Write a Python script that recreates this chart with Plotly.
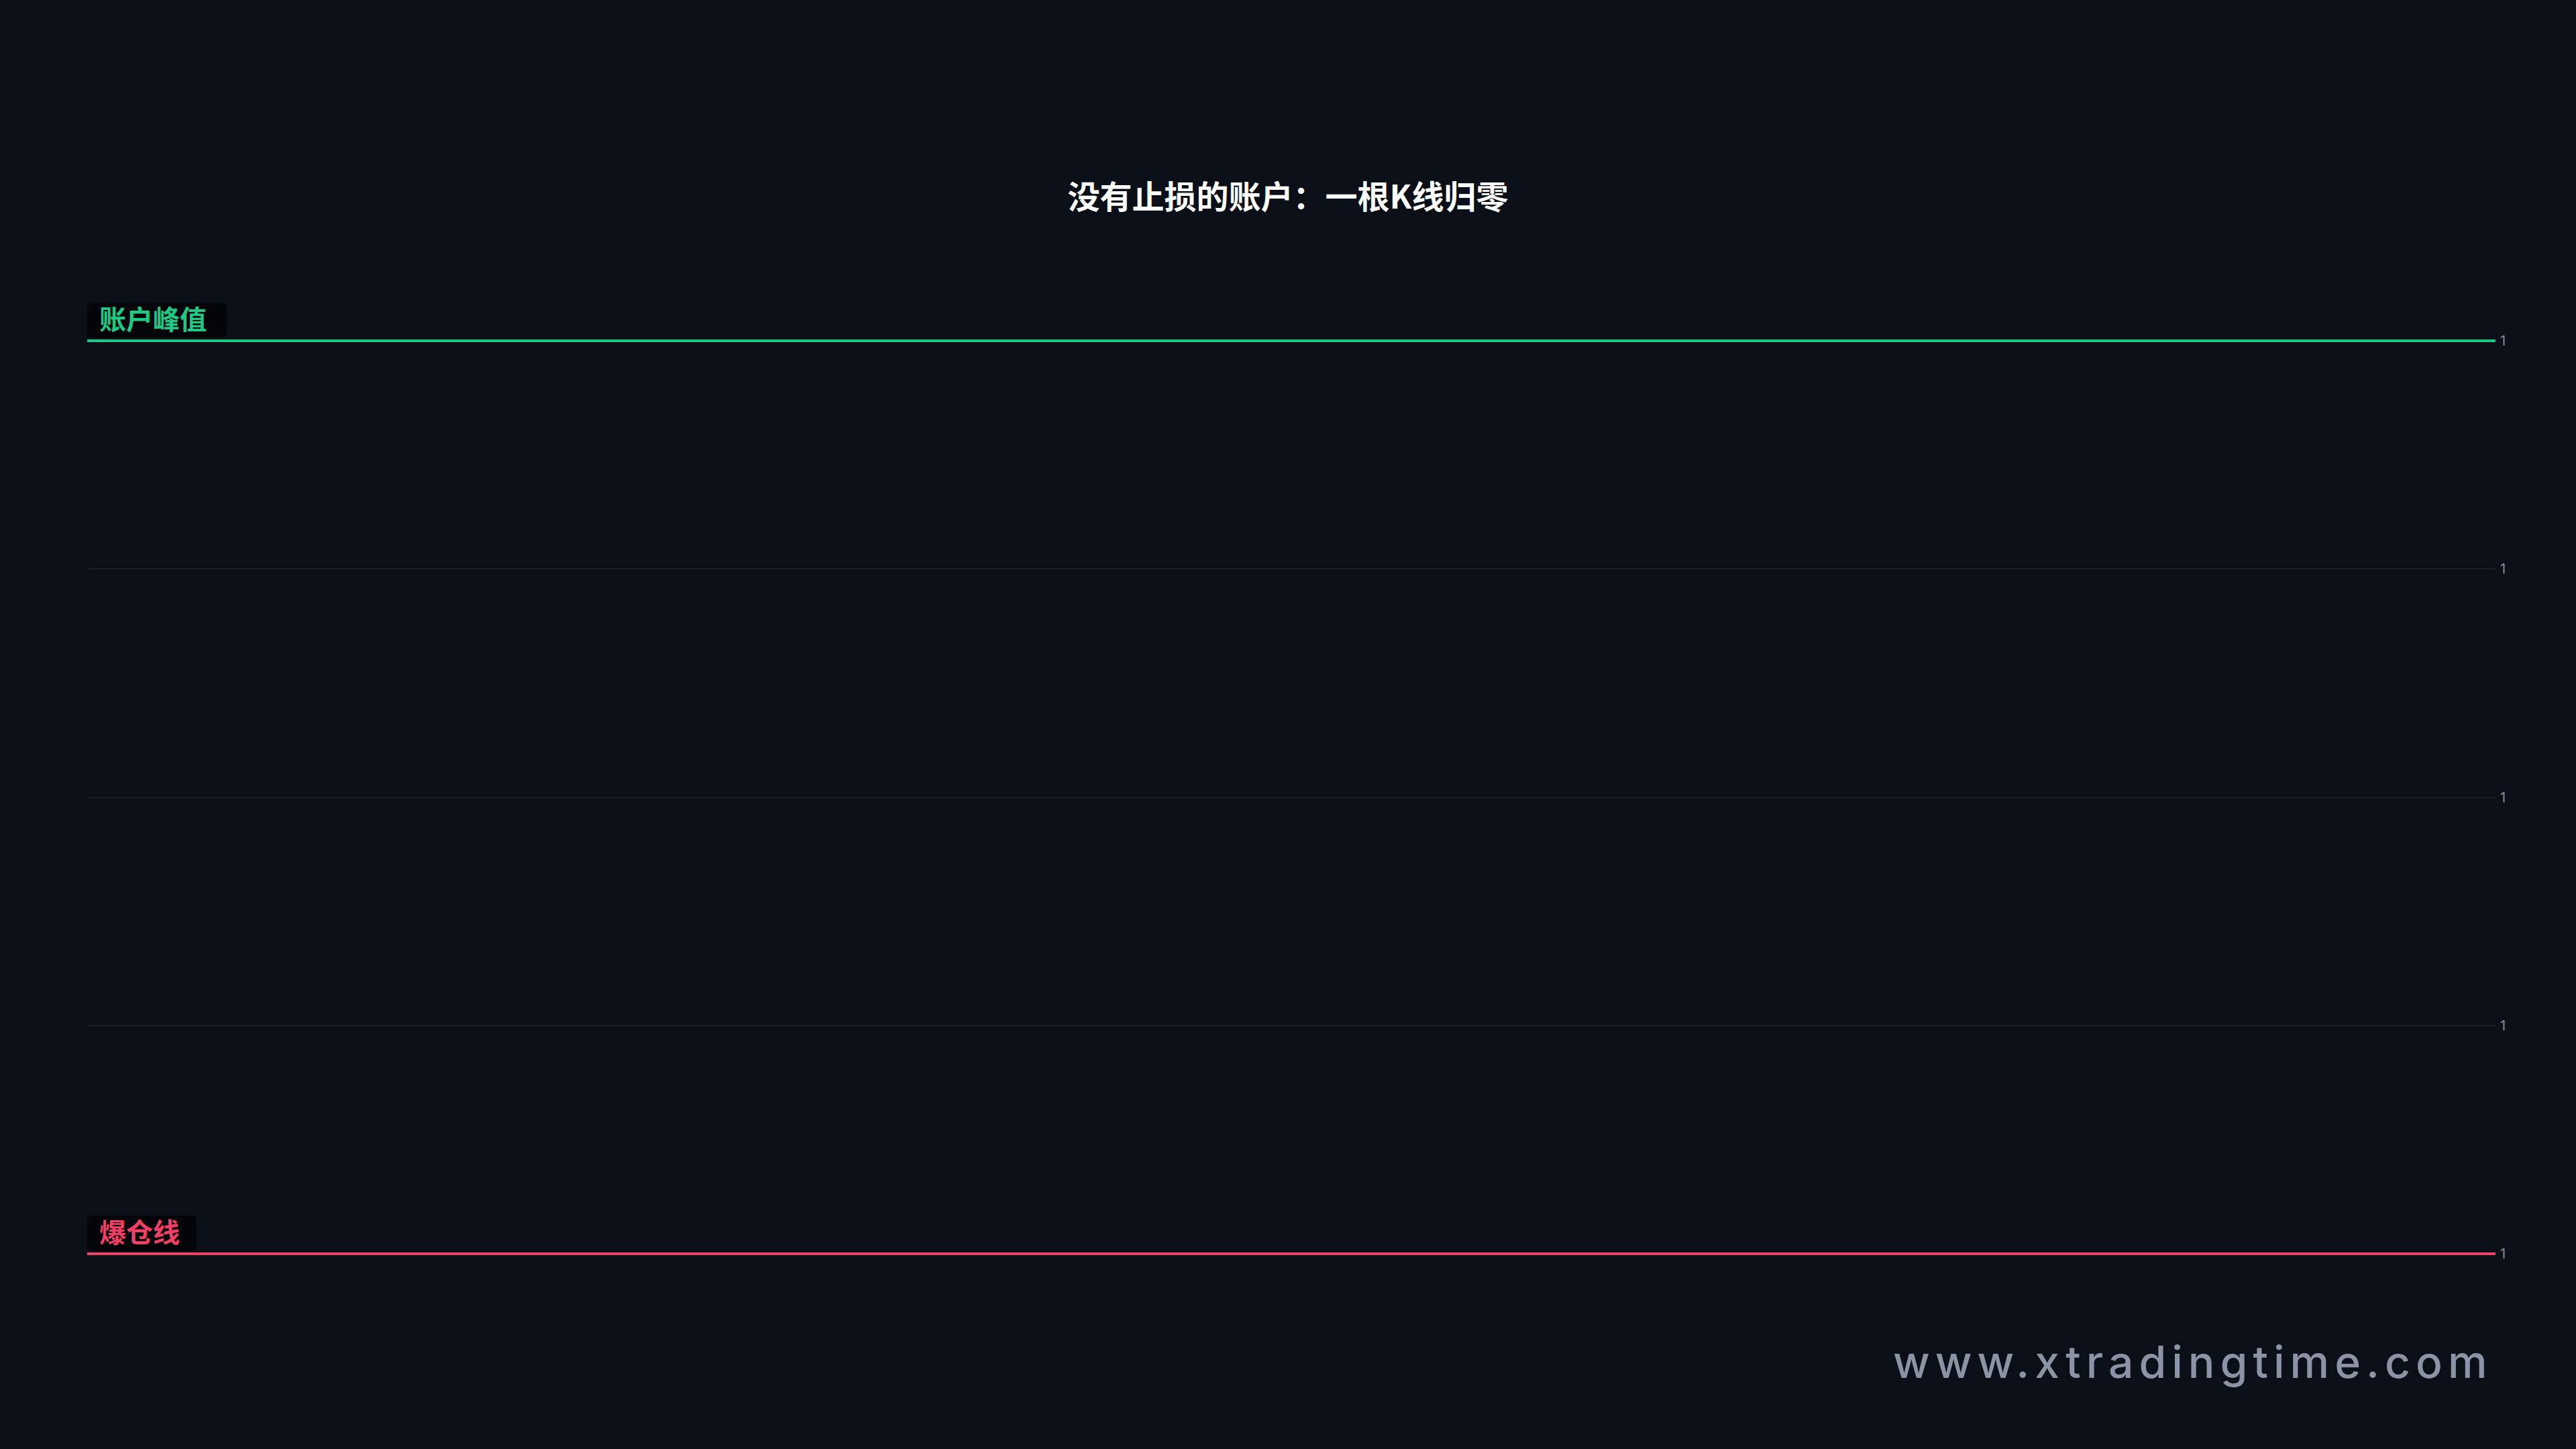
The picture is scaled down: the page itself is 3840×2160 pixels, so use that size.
import plotly.graph_objects as go

# Chart data
x_span = [0, 1]
peak_equity = [1.4, 1.4]
liquidation_line = [0.6, 0.6]
y_ticks = [0.6, 0.8, 1.0, 1.2, 1.4]

TITLE = '没有止损的账户：一根K线归零'
PEAK_LABEL = '账户峰值'
LIQ_LABEL = '爆仓线'
WATERMARK = 'www.xtradingtime.com'

BG = '#0b0f17'
GREEN = '#1fc985'
RED = '#f23f66'
CJK = 'Noto Sans CJK SC'


def label_box(y_val, w, h_top, h_bot=4, r=8):
    # rounded box anchored on the line, sizes in pixels
    path = (f'M{r},{h_bot} L{w - r},{h_bot} Q{w},{h_bot} {w},{h_bot + r} '
            f'L{w},{h_top - r} Q{w},{h_top} {w - r},{h_top} '
            f'L{r},{h_top} Q0,{h_top} 0,{h_top - r} '
            f'L0,{h_bot + r} Q0,{h_bot} {r},{h_bot} Z')
    return dict(type='path', path=path,
                xref='x', xsizemode='pixel', xanchor=0,
                yref='y', ysizemode='pixel', yanchor=y_val,
                fillcolor='#040508', line=dict(width=0), layer='above')


fig = go.Figure()

fig.add_trace(go.Scatter(x=x_span, y=peak_equity, mode='lines', name=PEAK_LABEL,
                         line=dict(color=GREEN, width=4),
                         hoverinfo='skip', showlegend=False))
fig.add_trace(go.Scatter(x=x_span, y=liquidation_line, mode='lines', name=LIQ_LABEL,
                         line=dict(color=RED, width=4),
                         hoverinfo='skip', showlegend=False))

fig.add_shape(label_box(peak_equity[0], 208, 56, 5))
fig.add_shape(label_box(liquidation_line[0], 163, 57, 4))

fig.add_annotation(x=x_span[0], y=peak_equity[0], xref='x', yref='y', text=f'<b>{PEAK_LABEL}</b>',
                   showarrow=False, xanchor='left', yanchor='middle', xshift=16, yshift=34,
                   font=dict(family=CJK, size=40, color=GREEN))
fig.add_annotation(x=x_span[0], y=liquidation_line[0], xref='x', yref='y', text=f'<b>{LIQ_LABEL}</b>',
                   showarrow=False, xanchor='left', yanchor='middle', xshift=16, yshift=34,
                   font=dict(family=CJK, size=40, color=RED))

fig.add_annotation(x=1, y=0.0024, xref='paper', yref='paper',
                   text=f'<span style="letter-spacing:8px">{WATERMARK}</span>',
                   showarrow=False, xanchor='right', yanchor='middle', xshift=-2, yshift=5,
                   font=dict(family='Inter', size=66, color='#8b94a4', weight=500))

fig.update_layout(
    width=3840, height=2160,
    paper_bgcolor=BG, plot_bgcolor=BG,
    margin=dict(l=130, r=120, t=338, b=121),
    title=dict(text=f'<b>{TITLE}</b>', x=0.5, xanchor='center', y=0.864, yanchor='middle',
               font=dict(family=CJK, size=48, color='#ffffff')),
    xaxis=dict(visible=False, range=[0, 1]),
    yaxis=dict(side='right', range=[0.5, 1.5], tickvals=y_ticks, tickformat='.0f',
               showgrid=True, gridcolor='rgba(255,255,255,0.07)', gridwidth=1.5,
               zeroline=False, showline=False, ticks='', ticklabelstandoff=6,
               tickfont=dict(family='Inter', size=20, color='#8a909b')),
    showlegend=False,
)

fig.write_html('out.html', config={'displayModeBar': False},
               post_script="document.body.style.margin='0';document.body.style.overflow='hidden';")
